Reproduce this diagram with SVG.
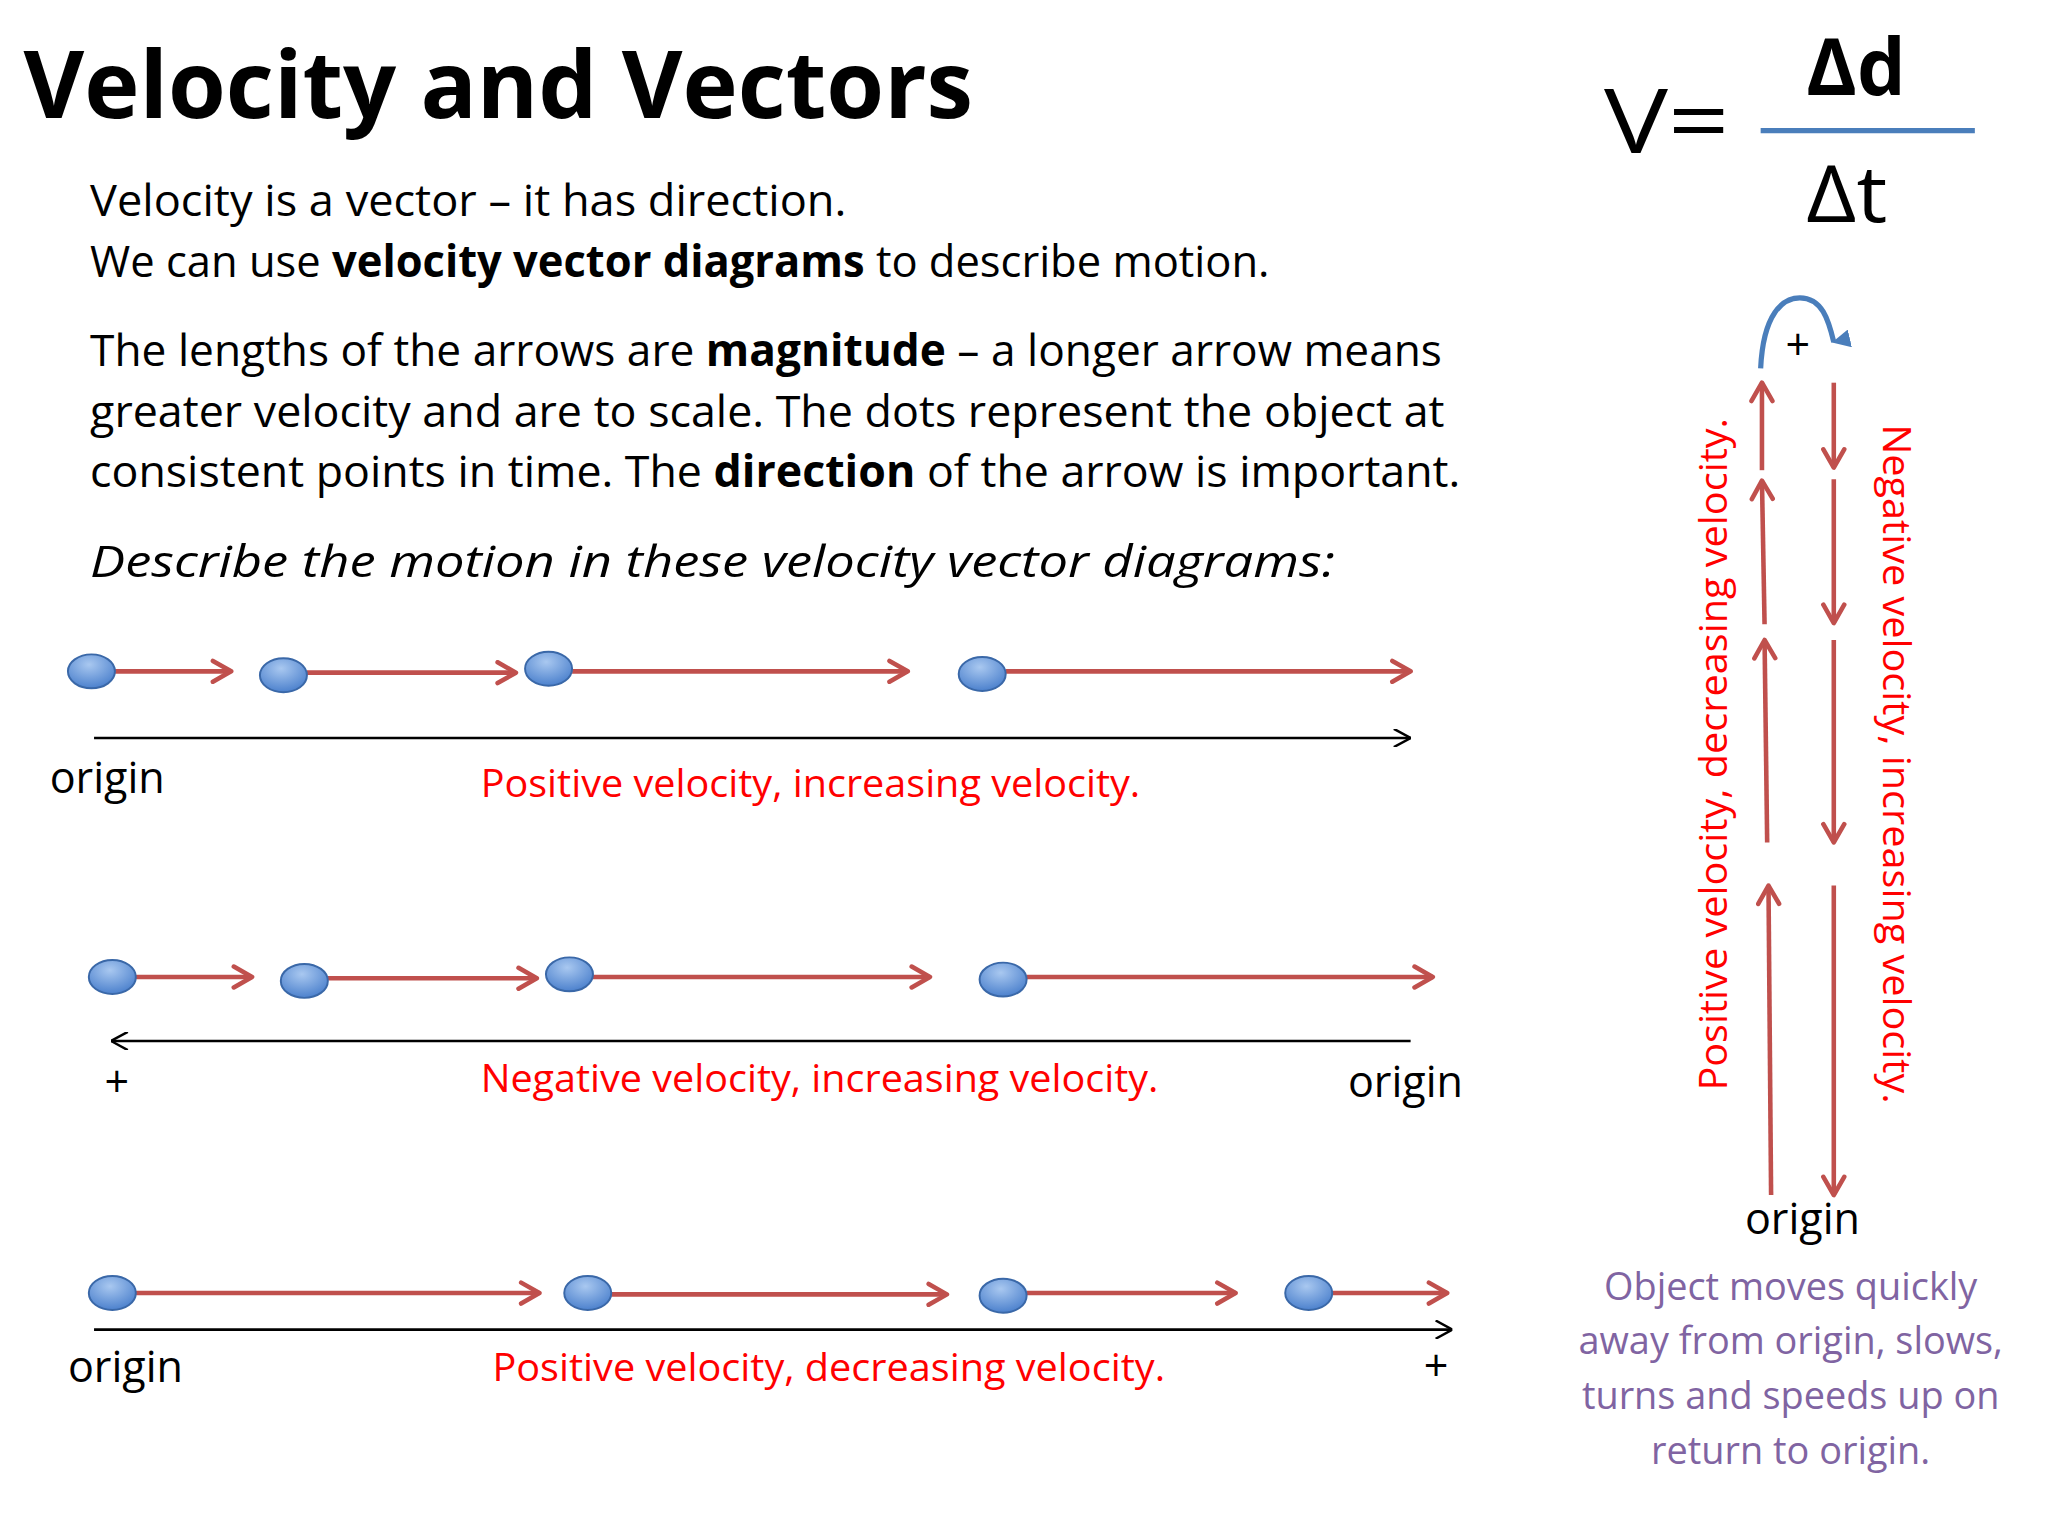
<svg xmlns="http://www.w3.org/2000/svg" width="2048" height="1536" viewBox="0 0 2048 1536">
<defs>
<radialGradient id="dg" cx="0.45" cy="0.3" r="0.8"><stop offset="0" stop-color="#a9c8f0"/><stop offset="1" stop-color="#3f77c8"/></radialGradient>
<marker id="ra" viewBox="0 0 20 20" refX="17" refY="10" markerWidth="20" markerHeight="20" markerUnits="userSpaceOnUse" orient="auto"><polyline points="3,2 17,10 3,18" fill="none" stroke="#c0504d" stroke-width="3.5" stroke-linecap="round" stroke-linejoin="round"/></marker>
<marker id="ka" viewBox="0 0 12 12" refX="12" refY="6" markerWidth="14" markerHeight="14" markerUnits="userSpaceOnUse" orient="auto"><polyline points="1,0 12,6 1,12" fill="none" stroke="#000" stroke-width="1.6"/></marker>
<marker id="ba" viewBox="0 0 10 10" refX="5" refY="9" markerWidth="14" markerHeight="14" markerUnits="userSpaceOnUse" orient="auto-start-reverse"><path d="M0,0 L10,0 L5,10 Z" fill="#4a7ebb"/></marker>
<style>
text{font-family:"Open Sans","Liberation Sans",sans-serif}
.b{font-size:34px;fill:#000}
.r{font-size:29px;fill:#ff0000}
.k{font-size:33px;fill:#000}
.p{font-size:29px;fill:#8064a2;text-anchor:middle}
.ar{stroke:#c0504d;stroke-width:3.5;fill:none;marker-end:url(#ra)}
.ax{stroke:#000;stroke-width:2;fill:none;marker-end:url(#ka)}
.dot{fill:url(#dg);stroke:#3a68a8;stroke-width:1.5}
</style>
</defs>
<rect width="2048" height="1536" fill="#fff"/>
<g transform="scale(1.30612)">
<g id="title"><text x="18" y="90" font-size="72" font-weight="bold" textLength="727" lengthAdjust="spacingAndGlyphs">Velocity and Vectors</text></g>
<g id="intro">
<text class="b" x="69" y="165" textLength="579" lengthAdjust="spacingAndGlyphs">Velocity is a vector – it has direction.</text>
<text class="b" x="69" y="212" textLength="903" lengthAdjust="spacingAndGlyphs">We can use <tspan font-weight="bold">velocity vector diagrams</tspan> to describe motion.</text>
<text class="b" x="69" y="280" textLength="1035" lengthAdjust="spacingAndGlyphs">The lengths of the arrows are <tspan font-weight="bold">magnitude</tspan> – a longer arrow means</text>
<text class="b" x="69" y="327" textLength="1037" lengthAdjust="spacingAndGlyphs">greater velocity and are to scale. The dots represent the object at</text>
<text class="b" x="69" y="373" textLength="1049" lengthAdjust="spacingAndGlyphs">consistent points in time.  The <tspan font-weight="bold">direction</tspan> of the arrow is important.</text>
<text class="b" x="69" y="442" font-size="37" font-style="italic" textLength="953" lengthAdjust="spacingAndGlyphs">Describe the motion in these velocity vector diagrams:</text>
</g>
<g id="formula">
<text x="1228" y="117" font-size="68" textLength="96" lengthAdjust="spacingAndGlyphs">V=</text>
<text x="1383" y="73" font-size="60" font-weight="bold" textLength="76" lengthAdjust="spacingAndGlyphs">Δd</text>
<line x1="1348" y1="100" x2="1512" y2="100" stroke="#4a7ebb" stroke-width="4"/>
<text x="1383" y="170" font-size="60" textLength="62" lengthAdjust="spacingAndGlyphs">Δt</text>
</g>
<g id="connectors">
<line class="ar" x1="88" y1="514" x2="177" y2="514"/>
<line class="ar" x1="235" y1="515" x2="395" y2="515"/>
<line class="ar" x1="438" y1="514" x2="695" y2="514"/>
<line class="ar" x1="770" y1="514" x2="1080" y2="514"/>
<line class="ax" x1="72" y1="565" x2="1080" y2="565"/>
<line class="ar" x1="104" y1="748" x2="193" y2="748"/>
<line class="ar" x1="251" y1="749" x2="411" y2="749"/>
<line class="ar" x1="454" y1="748" x2="712" y2="748"/>
<line class="ar" x1="786" y1="748" x2="1097" y2="748"/>
<line class="ax" x1="1080" y1="797" x2="85" y2="797"/>
<line class="ar" x1="104" y1="990" x2="413" y2="990"/>
<line class="ar" x1="468" y1="991" x2="725" y2="991"/>
<line class="ar" x1="786" y1="990" x2="946" y2="990"/>
<line class="ar" x1="1020" y1="990" x2="1108" y2="990"/>
<line class="ax" x1="72" y1="1018" x2="1112" y2="1018"/>
<line class="ar" x1="1356" y1="915" x2="1354" y2="678"/>
<line class="ar" x1="1353" y1="645" x2="1351" y2="490"/>
<line class="ar" x1="1351" y1="478" x2="1349" y2="368"/>
<line class="ar" x1="1349" y1="360" x2="1349" y2="293"/>
<line class="ar" x1="1404" y1="293" x2="1404" y2="358"/>
<line class="ar" x1="1404" y1="367" x2="1404" y2="477"/>
<line class="ar" x1="1404" y1="490" x2="1404" y2="645"/>
<line class="ar" x1="1404" y1="678" x2="1404" y2="915"/>
<path d="M1348,282 C1350,240 1365,228 1378,228 C1395,228 1400,245 1404,262" fill="none" stroke="#4a7ebb" stroke-width="4" marker-end="url(#ba)"/>
</g>
<g id="dots">
<ellipse class="dot" cx="70" cy="514" rx="18" ry="13"/>
<ellipse class="dot" cx="217" cy="517" rx="18" ry="13"/>
<ellipse class="dot" cx="420" cy="512" rx="18" ry="13"/>
<ellipse class="dot" cx="752" cy="516" rx="18" ry="13"/>
<ellipse class="dot" cx="86" cy="748" rx="18" ry="13"/>
<ellipse class="dot" cx="233" cy="751" rx="18" ry="13"/>
<ellipse class="dot" cx="436" cy="746" rx="18" ry="13"/>
<ellipse class="dot" cx="768" cy="750" rx="18" ry="13"/>
<ellipse class="dot" cx="86" cy="990" rx="18" ry="13"/>
<ellipse class="dot" cx="450" cy="990" rx="18" ry="13"/>
<ellipse class="dot" cx="768" cy="992" rx="18" ry="13"/>
<ellipse class="dot" cx="1002" cy="990" rx="18" ry="13"/>
</g>
<g id="labels">
<text class="k" x="38" y="607">origin</text>
<text class="r" x="368" y="610" textLength="505" lengthAdjust="spacingAndGlyphs">Positive velocity, increasing velocity.</text>
<text class="k" x="80" y="840">+</text>
<text class="r" x="368" y="836" textLength="519" lengthAdjust="spacingAndGlyphs">Negative velocity, increasing velocity.</text>
<text class="k" x="1032" y="840">origin</text>
<text class="k" x="52" y="1058">origin</text>
<text class="r" x="377" y="1057" textLength="515" lengthAdjust="spacingAndGlyphs">Positive velocity, decreasing velocity.</text>
<text class="k" x="1090" y="1057">+</text>
<text class="k" x="1367" y="276" font-size="26">+</text>
<text class="r" transform="translate(1322,835) rotate(-90)" textLength="515" lengthAdjust="spacingAndGlyphs">Positive velocity, decreasing velocity.</text>
<text class="r" transform="translate(1442,325) rotate(90)" textLength="520" lengthAdjust="spacingAndGlyphs">Negative velocity, increasing velocity.</text>
<text class="k" x="1380" y="945" text-anchor="middle">origin</text>
<text class="p" x="1371" y="995">Object moves quickly</text>
<text class="p" x="1371" y="1037">away from origin, slows,</text>
<text class="p" x="1371" y="1079">turns and speeds up on</text>
<text class="p" x="1371" y="1121">return to origin.</text>
</g>
</g>
</svg>
